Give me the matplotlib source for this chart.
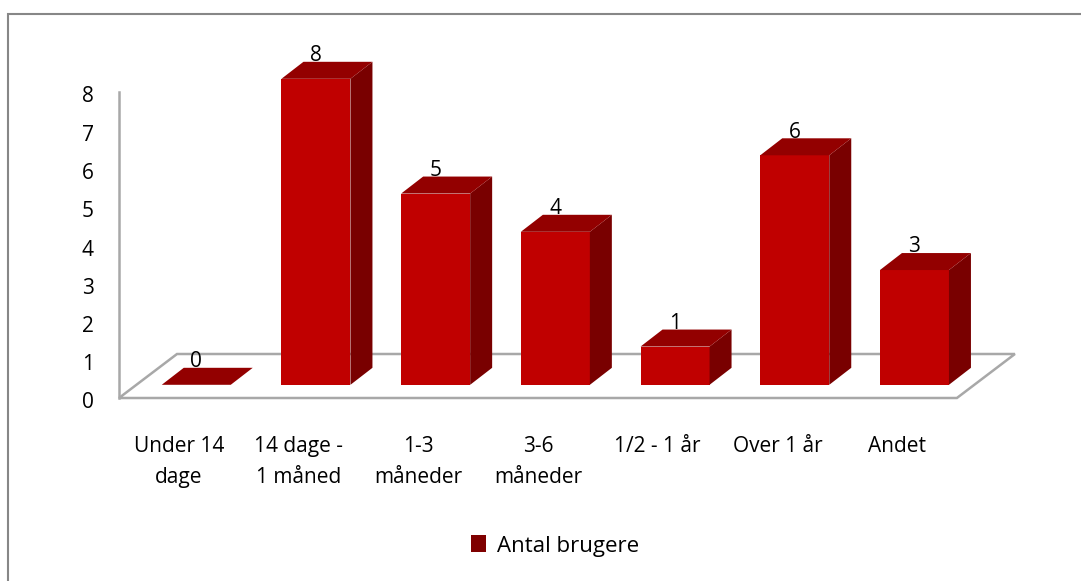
import numpy as np
import matplotlib.pyplot as plt
from matplotlib.patches import Polygon, Patch, Rectangle

plt.rcParams['font.family'] = ['Open Sans', 'DejaVu Sans']

categories = ["Under 14\ndage", "14 dage -\n1 måned", "1-3\nmåneder", "3-6\nmåneder",
              "1/2 - 1 år", "Over 1 år", "Andet"]
values = [0, 8, 5, 4, 1, 6, 3]
yticks = [0, 1, 2, 3, 4, 5, 6, 7, 8]
series_name = "Antal brugere"

front_col = '#C00000'
side_col = '#790000'
top_col = '#930000'
grid_col = '#A8A8A8'

W, H = 1081, 581
fig = plt.figure(figsize=(W / 100, H / 100), dpi=100)
ax = fig.add_axes([0, 0, 1, 1])

# scale: one category = 119.7 px, one unit = 38.25 px, floor front-left at (119, 398)
pcat, pval = 119.7, 38.25
ax.set_xlim(-0.5 - 119 / pcat, -0.5 + (W - 119) / pcat)
ax.set_ylim(-(H - 398) / pval, 398 / pval)
ax.axis('off')

n = len(categories)
# floor depth vector and bar geometry (data units)
fdx, fdy = 58 / pcat, 44 / pval
bdx, bdy = 22 / pcat, 17 / pval
f = 0.30
bw = 69 / pcat

# floor
floor = [(-0.5, 0), (n - 0.5, 0), (n - 0.5 + fdx, fdy), (-0.5 + fdx, fdy)]
ax.add_patch(Polygon(floor, closed=True, facecolor='white', edgecolor=grid_col, lw=1.8, zorder=1))
ax.plot([-0.5, -0.5], [0, max(yticks)], color=grid_col, lw=1.8, zorder=1)

for k, v in enumerate(values):
    x0 = k + f * fdx - bw / 2
    x1 = x0 + bw
    y0 = f * fdy
    y1 = y0 + v
    if v > 0:
        ax.add_patch(Polygon([(x0, y0), (x1, y0), (x1, y1), (x0, y1)],
                             facecolor=front_col, edgecolor='none', zorder=3))
        ax.add_patch(Polygon([(x1, y0), (x1 + bdx, y0 + bdy), (x1 + bdx, y1 + bdy), (x1, y1)],
                             facecolor=side_col, edgecolor='none', zorder=3))
    ax.add_patch(Polygon([(x0, y1), (x1, y1), (x1 + bdx, y1 + bdy), (x0 + bdx, y1 + bdy)],
                         facecolor=top_col, edgecolor='none', zorder=3))
    ax.text(k + f * fdx, y1 + bdy + 0.02, str(v), ha='center', va='baseline',
            fontsize=15, color='black', zorder=5)
    # category label, one text per line
    for i, line in enumerate(categories[k].split('\n')):
        ax.text(k, -(54 + 31 * i) / pval, line, ha='center', va='baseline',
                fontsize=15, color='black')

for t in yticks:
    ax.text(-0.5 - 31 / pcat, t - 5 / pval, str(t), ha='center', va='center', fontsize=15)

ax.legend(handles=[Patch(facecolor='#7F0000', edgecolor='none')], labels=[series_name],
          loc='center', bbox_to_anchor=(555 / W, 1 - 546 / H), bbox_transform=fig.transFigure,
          frameon=False, fontsize=16, handlelength=0.7, handleheight=0.8, handletextpad=0.5)

fig.add_artist(Rectangle((8 / W, -0.1), 1.2, 1.1 - 14 / H, transform=fig.transFigure,
                         fill=False, edgecolor='#878787', lw=1.5))

fig.savefig('out.png', dpi=100)
